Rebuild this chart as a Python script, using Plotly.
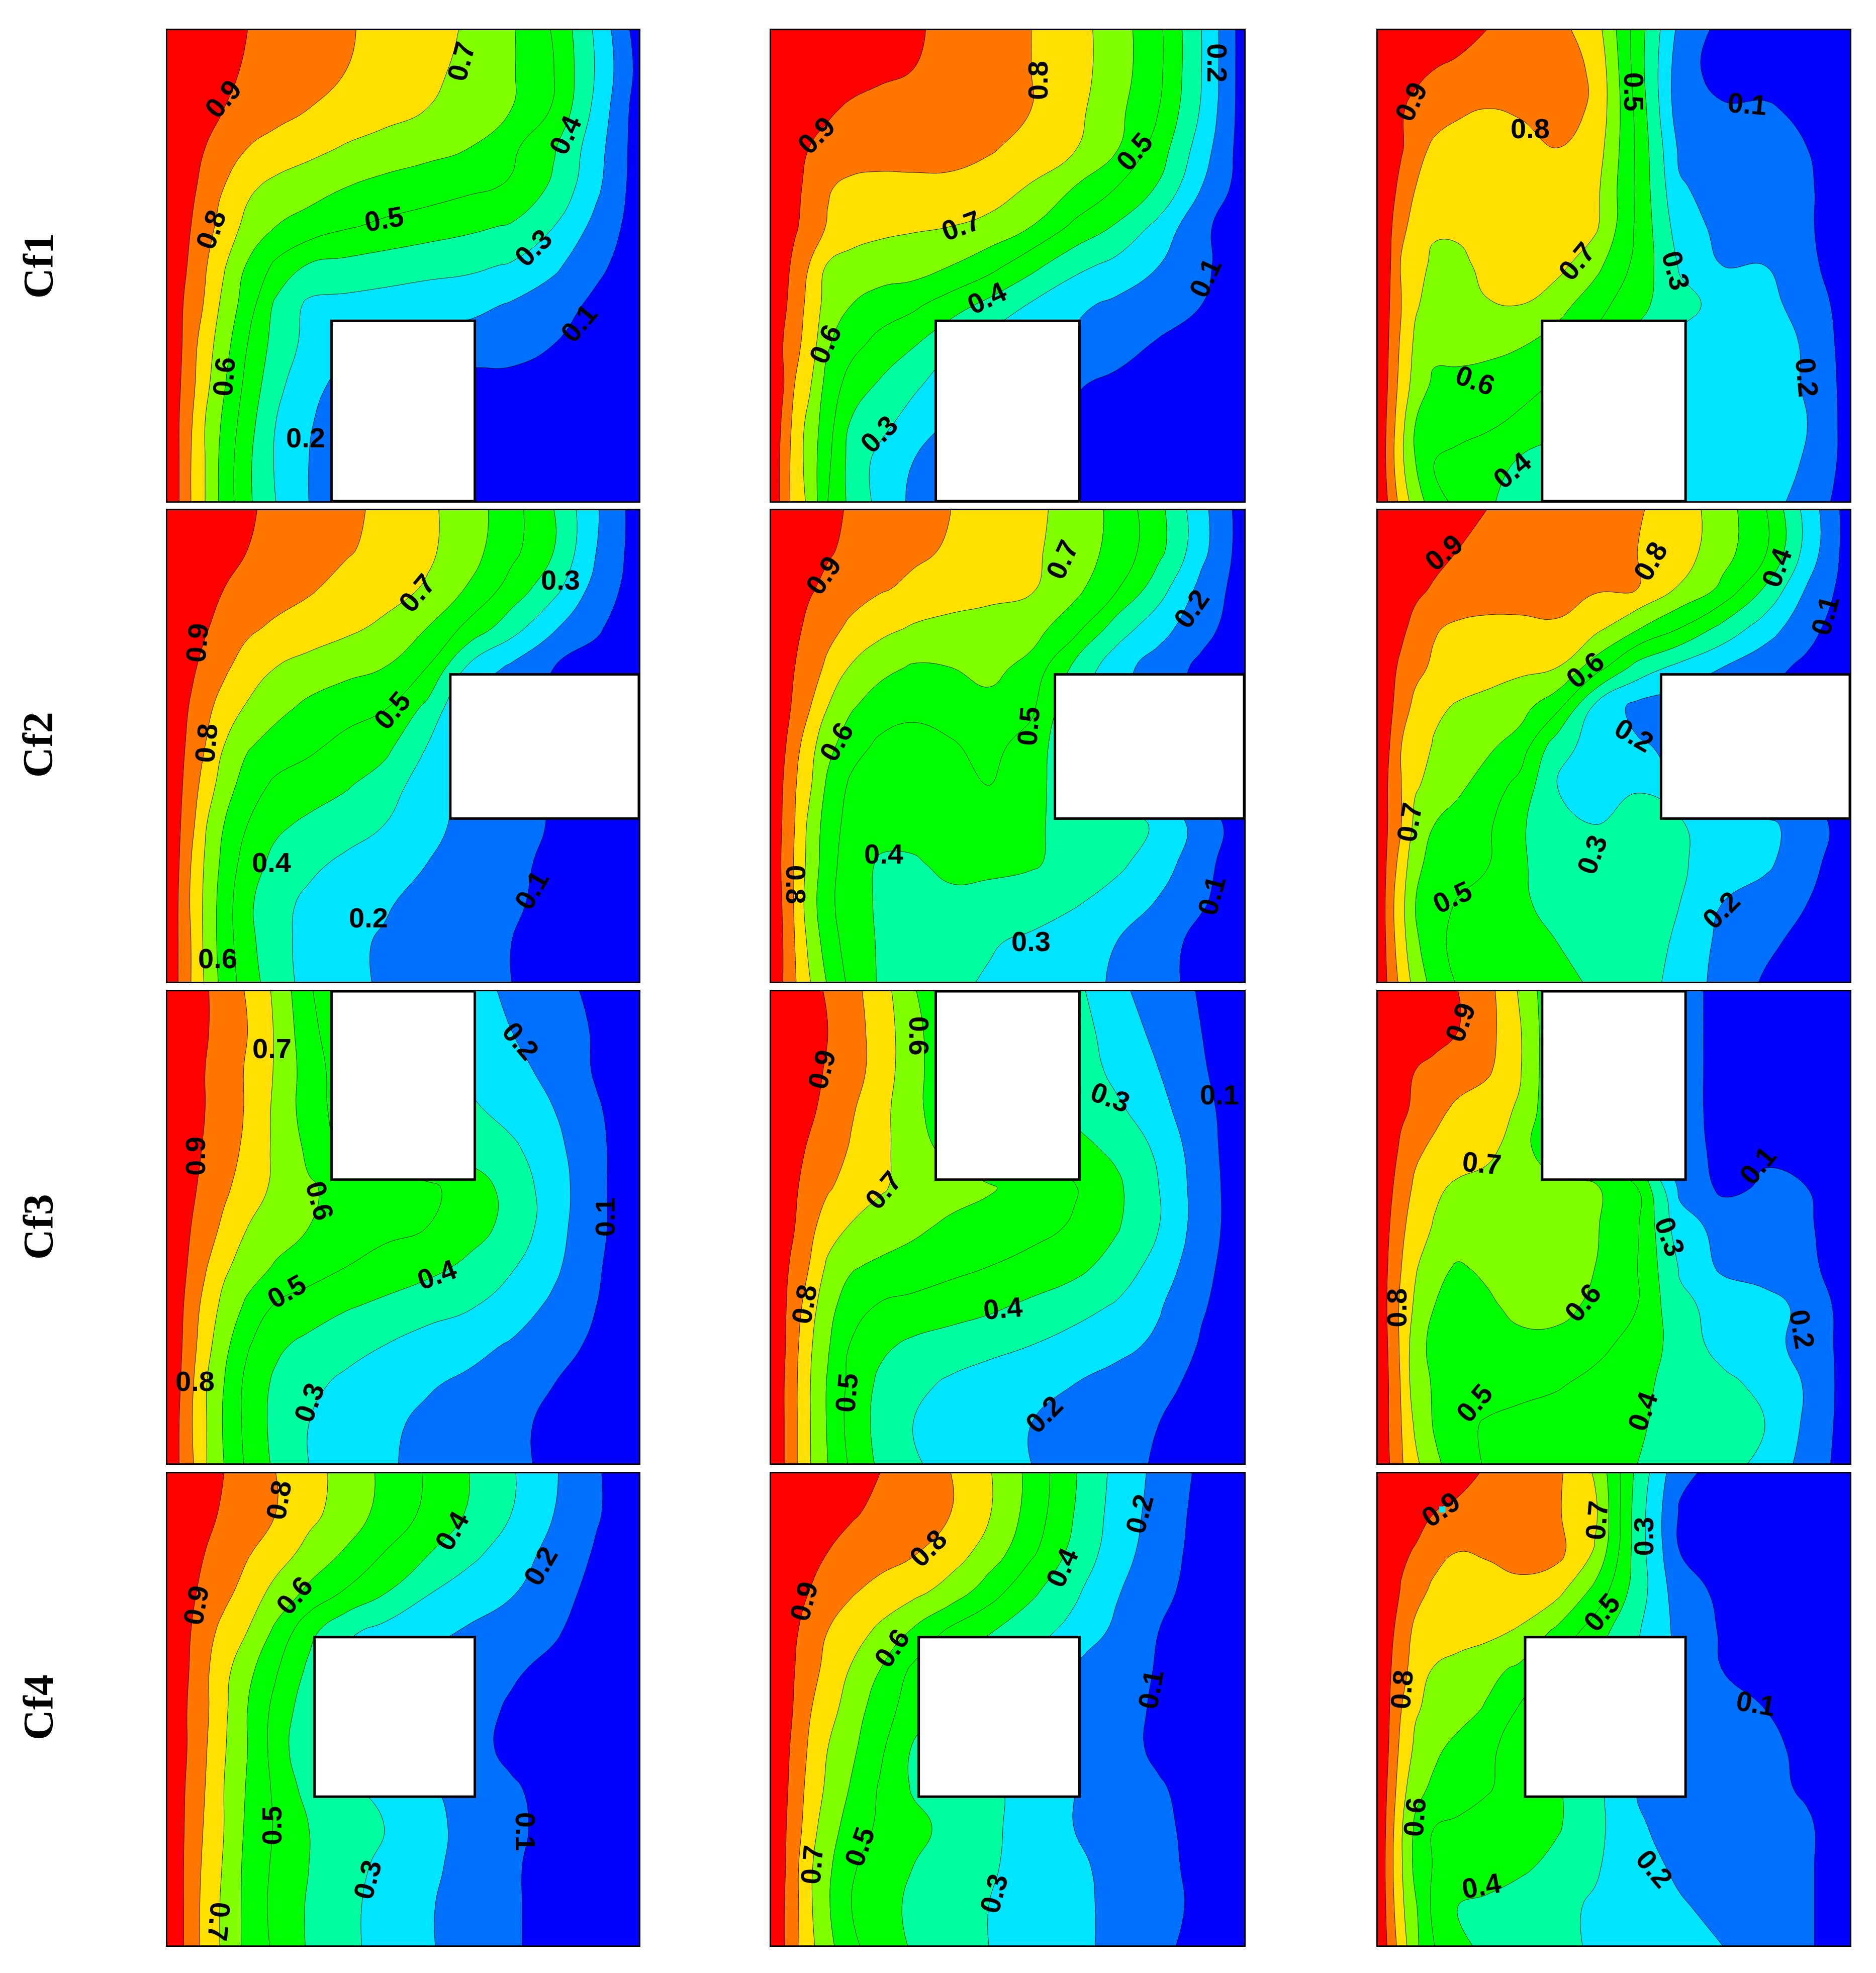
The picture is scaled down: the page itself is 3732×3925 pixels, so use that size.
import plotly.graph_objects as go

# Shared sample positions (fractions of each panel); y runs from the top edge downward
GRID_X = [0, .025, .05, .08, .12, .17, .23, .30, .38, .46, .55, .64, .73, .82, .91, 1]
GRID_Y = [i / 12 for i in range(13)]

ROW_NAMES = ["Cf1", "Cf2", "Cf3", "Cf4"]
LEVELS = dict(start=10, end=90, size=10)

# Values x100
Z_R1C1 = [
[100,99,97,95,93,90,87,84,81,77,73,69,61,49,28,5],
[100,98,96,94,92,89,86,84,80,77,72,68,61,50,29,7],
[100,97,95,93,90,87,83,80,77,74,70,65,60,49,27,5],
[100,96,93,90,85,80,77,73,69,66,63,60,52,41,24,5],
[100,96,92,87,80,72,67,64,60,57,55,52,49,38,22,5],
[100,95,90,84,76,67,60,56,51,48,45,42,39,30,17,5],
[100,94,88,81,71,59,48,39,37,35,33,32,29,22,12,5],
[100,92,86,79,67,55,38,28,27,26,25,23,19,14,8,4],
[100,92,84,75,64,50,36,27,22,19,17,15,14,10,7,4],
[100,91,83,73,61,47,33,23,17,13,10,7,7,6,5,4],
[100,90,81,70,58,44,30,21,13,9,7,6,6,5,4,4],
[100,90,80,70,56,42,29,20,12,9,7,6,5,5,4,4],
[100,90,80,70,56,42,30,20,12,9,7,6,5,5,4,4],
]
Z_R1C2 = [
[100,98,96,95,94,93,92,91,88,84,80,74,65,52,30,5],
[100,98,96,95,94,93,92,90,87,84,80,74,65,52,30,5],
[100,97,95,93,91,89,87,86,84,82,80,73,63,50,29,5],
[100,96,93,90,88,87,86,85,83,81,77,71,61,45,25,5],
[100,95,92,88,81,77,76,77,78,76,69,60,50,39,20,5],
[100,94,91,87,79,74,72,71,70,67,60,48,39,27,12,4],
[100,93,88,80,69,67,66,65,60,54,43,33,27,20,12,4],
[100,92,86,77,66,60,55,52,45,37,29,22,18,15,10,4],
[100,90,83,76,61,53,47,41,31,26,22,18,14,9,6,3],
[100,91,80,72,56,46,39,32,25,20,16,11,8,6,5,3],
[100,88,77,67,54,39,33,26,19,14,10,8,6,5,4,3],
[100,86,76,66,52,36,27,20,13,9,7,6,5,4,4,3],
[100,86,76,68,50,37,27,18,10,8,7,6,5,4,4,3],
]
Z_R1C3 = [
[100,98,96,95,94,92,90,86,83,75,45,17,7,5,5,5],
[100,97,95,93,90,89,87,85,83,79,45,14,6,6,5,5],
[100,94,91,87,85,82,80,81,83,79,47,14,11,11,8,5],
[100,95,91,84,78,75,76,77,80,76,48,18,15,13,10,5],
[100,94,87,80,75,74,74,74,74,73,48,21,16,14,11,5],
[100,92,82,77,72,73,74,74,73,72,48,25,17,14,11,5],
[100,91,79,75,67,66,74,75,73,63,47,29,20,20,12,5],
[100,90,80,71,66,66,69,70,64,54,43,33,27,23,16,5],
[100,89,78,68,63,64,63,61,55,47,37,28,27,24,19,5],
[100,88,76,66,58,57,56,54,49,43,36,28,27,25,19,6],
[100,86,73,60,56,54,52,48,44,40,35,28,27,25,20,6],
[100,85,72,60,50,47,44,39,34,30,27,27,26,25,19,6],
[100,88,76,65,54,47,42,35,30,27,26,26,26,24,16,5],
]
Z_R2C1 = [
[100,98,97,95,94,91,88,85,82,78,72,65,54,40,21,5],
[100,98,96,94,93,90,88,85,81,77,72,64,53,40,20,5],
[100,97,95,93,90,88,85,81,77,74,69,59,46,33,16,5],
[100,97,94,91,86,82,78,76,72,68,60,47,34,21,11,5],
[100,96,92,87,82,75,70,66,63,60,50,28,18,10,7,5],
[100,94,89,83,76,69,63,58,54,51,38,19,14,9,7,5],
[100,93,87,80,70,61,56,52,47,43,30,17,13,9,7,5],
[100,92,85,76,65,55,48,45,41,35,25,16,13,9,7,5],
[100,91,83,71,60,50,42,38,34,30,23,17,14,9,7,5],
[100,90,80,69,57,45,37,32,28,24,20,16,12,8,6,5],
[100,89,79,68,55,42,33,28,25,21,17,14,11,8,6,5],
[100,89,80,68,55,43,33,27,22,19,16,13,10,8,6,5],
[100,89,80,69,56,45,34,27,22,19,16,13,10,8,6,5],
]
Z_R2C2 = [
[100,98,97,95,92,89,87,84,80,76,72,67,57,43,23,5],
[100,97,95,93,91,88,86,82,79,76,72,65,57,43,23,5],
[100,96,94,91,88,84,81,78,75,73,71,63,51,34,17,5],
[100,95,92,88,83,78,73,69,67,66,64,54,35,24,13,5],
[100,94,90,85,78,69,63,59,60,63,57,38,24,15,8,4],
[100,94,88,81,70,61,55,52,54,57,52,32,24,14,7,4],
[100,92,84,74,63,54,48,47,49,53,46,31,24,14,7,4],
[100,90,81,72,58,48,46,45,47,50,44,33,24,14,7,4],
[100,89,80,68,55,46,43,43,44,45,42,36,33,29,15,5],
[100,88,79,67,54,44,39,39,42,42,41,37,32,25,13,4],
[100,89,79,65,53,43,39,38,38,37,35,31,26,19,11,4],
[100,90,80,68,55,45,39,37,34,31,28,24,20,14,7,4],
[100,90,81,71,59,47,39,36,32,29,26,23,19,13,7,4],
]
Z_R2C3 = [
[100,99,98,96,95,92,90,88,86,83,81,75,65,51,26,5],
[100,99,97,95,93,90,89,87,85,83,80,75,64,52,26,5],
[100,97,95,92,89,88,86,84,83,81,80,69,58,39,19,5],
[100,96,92,87,81,78,77,78,79,73,61,50,37,25,13,4],
[100,93,88,83,78,76,74,72,70,55,36,27,20,13,8,4],
[100,92,85,77,72,69,67,64,53,28,17,14,12,9,7,4],
[100,90,80,75,69,66,62,56,34,26,21,18,14,9,7,4],
[100,88,80,71,67,62,56,47,30,27,29,20,14,9,7,4],
[100,88,80,67,60,56,52,42,31,30,34,31,26,22,16,4],
[100,86,76,62,57,55,51,42,33,32,33,31,26,22,13,4],
[100,84,73,60,55,49,45,41,38,36,33,30,20,15,10,4],
[100,85,74,62,52,48,46,43,40,37,33,29,17,12,7,4],
[100,87,77,66,56,49,47,45,42,39,34,27,16,9,6,4],
]
Z_R3C1 = [
[100,97,94,91,86,79,68,51,42,36,30,24,18,13,8,4],
[100,97,94,91,86,80,69,53,42,36,30,26,20,15,9,4],
[100,97,94,90,85,79,69,55,44,37,31,27,23,17,9,4],
[100,97,94,90,85,79,68,55,45,39,35,32,26,20,11,4],
[100,96,93,89,84,78,68,58,47,43,40,36,32,23,12,4],
[100,96,92,87,82,75,68,61,57,55,52,46,36,25,12,4],
[100,94,90,85,78,70,65,60,57,53,50,44,37,24,12,4],
[100,94,88,81,72,65,59,54,50,46,43,38,31,22,11,4],
[100,93,85,77,67,58,49,46,41,38,34,31,25,18,10,4],
[100,92,84,74,63,51,42,37,33,30,26,23,19,14,8,4],
[100,91,82,71,60,47,38,32,28,25,21,18,15,10,7,4],
[100,90,81,71,59,47,37,30,26,22,18,15,12,8,6,4],
[100,90,82,71,60,48,38,30,25,21,18,15,12,8,6,4],
]
Z_R3C2 = [
[100,98,96,93,89,83,75,61,50,44,38,33,22,16,9,4],
[100,98,96,93,90,84,76,63,52,46,40,34,26,17,10,4],
[100,98,96,93,89,84,76,63,53,47,42,37,27,20,11,4],
[100,97,95,92,87,81,74,62,55,49,44,38,32,23,13,4],
[100,96,93,89,85,79,73,64,57,52,47,43,38,28,14,4],
[100,95,91,87,81,76,71,67,64,61,56,51,42,30,15,4],
[100,95,90,83,75,69,66,62,58,56,53,49,41,30,15,4],
[100,93,87,80,68,61,58,56,53,50,47,43,36,26,13,4],
[100,92,85,75,63,55,49,47,44,42,38,34,29,21,11,4],
[100,92,83,72,61,49,42,38,36,33,30,26,23,18,9,4],
[100,91,82,71,59,47,38,33,28,25,23,20,16,12,8,4],
[100,91,82,71,59,46,37,30,26,23,20,17,13,10,7,4],
[100,91,82,71,60,48,38,31,27,23,20,16,13,9,7,4],
]
Z_R3C3 = [
[100,99,97,96,93,90,84,69,50,40,30,15,6,5,5,5],
[100,98,96,95,93,90,84,71,50,40,30,15,6,5,5,5],
[100,97,95,90,88,85,82,71,50,40,30,15,6,5,5,5],
[100,96,92,88,83,78,74,69,50,40,30,15,6,5,5,5],
[100,95,88,82,78,76,73,65,50,40,30,15,7,9,8,5],
[100,92,85,78,72,68,66,65,64,62,50,18,8,11,10,5],
[100,90,82,75,69,67,66,65,63,61,51,24,17,15,11,5],
[100,88,80,71,63,59,62,64,62,60,50,29,18,15,12,5],
[100,87,78,68,60,56,58,63,63,58,50,32,27,24,17,5],
[100,88,78,64,57,55,55,57,57,53,46,36,26,22,18,5],
[100,89,79,64,59,57,55,53,51,47,42,37,33,27,19,5],
[100,89,80,68,59,53,49,47,45,43,41,37,33,30,18,5],
[100,90,81,72,62,55,49,47,45,42,40,36,33,28,16,5],
]
Z_R4C1 = [
[100,98,96,93,90,85,80,74,66,58,49,40,31,21,11,3],
[100,98,95,92,89,85,80,73,65,57,48,39,30,20,11,3],
[100,97,95,90,86,81,75,67,59,50,41,33,25,17,9,3],
[100,96,92,87,83,76,67,58,49,41,31,25,21,14,7,3],
[100,95,90,84,77,70,58,43,32,27,23,19,15,11,6,3],
[100,95,89,82,73,63,51,38,26,21,17,14,11,8,6,3],
[100,94,88,82,72,60,47,34,25,21,17,13,9,7,5,3],
[100,94,88,81,71,60,46,31,25,21,17,13,8,6,5,3],
[100,93,87,80,70,59,48,36,31,28,21,17,11,7,5,3],
[100,93,86,79,70,58,49,40,35,30,23,17,12,7,5,3],
[100,93,85,78,69,57,48,40,33,28,22,17,11,7,5,3],
[100,93,85,77,68,57,47,39,32,27,21,16,11,7,5,3],
[100,93,85,77,68,57,48,39,32,27,21,16,11,7,5,3],
]
Z_R4C2 = [
[100,99,97,96,94,91,90,85,80,71,57,41,27,17,8,3],
[100,98,97,95,93,91,88,85,80,71,56,40,26,16,7,3],
[100,97,94,92,90,87,84,81,75,66,52,37,25,14,7,3],
[100,97,94,90,86,81,77,73,66,55,42,32,21,12,7,3],
[100,95,91,87,80,75,68,59,48,41,34,27,18,10,6,3],
[100,95,90,84,77,69,60,48,37,31,25,20,16,9,6,3],
[100,95,89,81,74,65,55,45,37,31,25,20,15,8,6,3],
[100,94,87,79,70,62,52,39,32,28,24,19,14,8,6,3],
[100,93,86,77,68,59,49,39,36,32,26,20,15,11,6,3],
[100,92,85,75,64,56,48,43,37,32,26,20,16,12,7,3],
[100,92,83,72,62,51,46,40,36,31,27,22,17,12,8,3],
[100,91,83,72,61,50,44,38,34,30,26,22,18,13,8,3],
[100,91,83,73,63,52,45,39,34,30,26,22,18,12,7,3],
]
Z_R4C3 = [
[100,99,98,97,95,93,89,86,82,69,37,12,7,6,5,5],
[100,98,96,94,90,88,86,84,81,72,35,9,6,5,5,5],
[100,96,92,89,83,80,81,84,83,69,35,10,7,6,5,5],
[100,96,89,83,78,76,76,77,73,57,35,14,8,6,5,5],
[100,93,85,78,76,75,73,69,58,45,31,17,9,7,5,5],
[100,91,83,76,69,66,63,58,47,38,29,18,10,8,6,5],
[100,90,80,71,67,64,59,49,40,34,27,17,11,10,6,5],
[100,89,77,68,62,57,52,46,39,33,26,18,15,12,8,5],
[100,87,74,63,58,55,51,46,41,33,20,16,14,12,9,5],
[100,85,71,58,50,48,46,44,41,33,21,17,15,13,11,5],
[100,84,71,57,49,47,45,42,37,31,24,18,16,13,11,5],
[100,85,72,61,47,40,38,35,32,29,25,21,17,14,11,5],
[100,87,75,62,50,42,38,35,32,29,26,23,20,15,11,5],
]

ZS = [[Z_R1C1, Z_R1C2, Z_R1C3], [Z_R2C1, Z_R2C2, Z_R2C3],
      [Z_R3C1, Z_R3C2, Z_R3C3], [Z_R4C1, Z_R4C2, Z_R4C3]]

# Contour label texts
TEXT_R1C1 = ["0.9","0.8","0.7","0.4","0.5","0.3","0.1","0.6","0.2"]
TEXT_R1C2 = ["0.9","0.8","0.7","0.2","0.5","0.4","0.6","0.1","0.3"]
TEXT_R1C3 = ["0.9","0.8","0.5","0.1","0.7","0.3","0.6","0.2","0.4"]
TEXT_R2C1 = ["0.9","0.8","0.7","0.3","0.5","0.4","0.2","0.1","0.6"]
TEXT_R2C2 = ["0.9","0.7","0.2","0.6","0.5","0.8","0.4","0.3","0.1"]
TEXT_R2C3 = ["0.9","0.8","0.4","0.1","0.6","0.2","0.7","0.3","0.5","0.2"]
TEXT_R3C1 = ["0.7","0.2","0.9","0.6","0.1","0.5","0.4","0.8","0.3"]
TEXT_R3C2 = ["0.6","0.9","0.3","0.1","0.7","0.8","0.4","0.5","0.2"]
TEXT_R3C3 = ["0.9","0.7","0.1","0.3","0.6","0.8","0.2","0.5","0.4"]
TEXT_R4C1 = ["0.8","0.4","0.2","0.6","0.9","0.5","0.3","0.1","0.7"]
TEXT_R4C2 = ["0.2","0.8","0.4","0.9","0.6","0.1","0.5","0.7","0.3"]
TEXT_R4C3 = ["0.9","0.7","0.3","0.5","0.8","0.1","0.6","0.2","0.4"]
TEXTS = [[TEXT_R1C1, TEXT_R1C2, TEXT_R1C3], [TEXT_R2C1, TEXT_R2C2, TEXT_R2C3],
         [TEXT_R3C1, TEXT_R3C2, TEXT_R3C3], [TEXT_R4C1, TEXT_R4C2, TEXT_R4C3]]

# Placement of those labels: (x, y from top, angle)
PLACE = [[
 [(.118,.146,-50),(.092,.423,-70),(.623,.066,-75),(.844,.223,-65),(.46,.401,-10),(.776,.462,-45),(.873,.622,-50),(.12,.736,-85),(.293,.865,0)],
 [(.096,.223,-45),(.563,.107,-90),(.402,.415,-20),(.943,.07,90),(.768,.258,-50),(.456,.568,-25),(.114,.666,-65),(.918,.526,-65),(.228,.858,-45)],
 [(.07,.152,-65),(.323,.209,0),(.542,.131,90),(.783,.156,5),(.421,.49,-50),(.631,.51,75),(.207,.743,20),(.909,.737,85),(.284,.934,-40)],
],[
 [(.063,.281,-85),(.082,.494,-85),(.529,.175,-50),(.834,.148,0),(.477,.424,-50),(.221,.747,0),(.426,.864,0),(.772,.805,-60),(.107,.95,0)],
 [(.11,.138,-55),(.615,.105,-65),(.888,.209,-55),(.138,.491,-60),(.544,.458,-85),(.052,.794,90),(.238,.729,0),(.549,.914,0),(.931,.817,-75)],
 [(.14,.089,-40),(.577,.108,-60),(.845,.121,-70),(.947,.223,-75),(.439,.338,-40),(.543,.477,30),(.067,.662,-80),(.454,.73,-70),(.158,.82,-25),(.727,.848,-45)],
],[
 [(.222,.121,0),(.749,.105,50),(.059,.349,-90),(.323,.444,75),(.928,.478,-90),(.253,.635,-30),(.571,.6,-20),(.059,.826,0),(.301,.871,-70)],
 [(.313,.094,90),(.107,.166,-75),(.717,.224,20),(.948,.219,0),(.237,.421,-50),(.07,.663,-80),(.49,.671,-5),(.159,.851,-85),(.577,.896,-45)],
 [(.174,.065,-70),(.22,.364,5),(.805,.369,-50),(.619,.52,70),(.434,.66,-50),(.04,.671,-90),(.899,.716,80),(.205,.872,-50),(.561,.89,-70)],
],[
 [(.236,.056,-80),(.603,.122,-60),(.791,.196,-60),(.269,.258,-50),(.061,.279,-80),(.221,.746,-90),(.424,.861,-75),(.759,.759,90),(.11,.95,95)],
 [(.779,.086,-75),(.332,.158,-45),(.615,.2,-65),(.069,.271,-75),(.255,.37,-55),(.802,.458,-80),(.187,.791,-70),(.086,.829,-85),(.471,.89,-75)],
 [(.133,.076,-35),(.464,.1,-85),(.563,.134,-90),(.474,.294,-50),(.05,.458,-85),(.801,.487,10),(.078,.728,-85),(.586,.838,50),(.219,.874,-10)],
]]

WIDTH, HEIGHT = 3732, 3925
COL_PX = [(333, 1271), (1534, 2475), (2741, 3680)]
ROW_PX = [(60, 997), (1015, 1953), (1972, 2911), (2931, 3870)]
ROW_LABEL_Y = [529, 1482, 2441, 3397]
# Obstacle per row: x0, x1, y0, y1 (fractions, y from top)
OBST = [(.348, .652, .617, 1), (.6, 1, .348, .654), (.348, .652, 0, .399), (.312, .652, .347, .685)]
BAND_COLORS = ["#0000ff", "#0070ff", "#00e5ff", "#00ffa0", "#00ff00",
               "#00ff00", "#7fff00", "#ffe000", "#ff7700", "#ff0000"]
SCALE = [[i / 9, c] for i, c in enumerate(BAND_COLORS)]

fig = go.Figure()
layout = dict(width=WIDTH, height=HEIGHT, margin=dict(l=0, r=0, t=0, b=0),
              paper_bgcolor="white", plot_bgcolor="white", showlegend=False, autosize=False)
shapes, annots = [], []

for r in range(4):
    for c in range(3):
        n = r * 3 + c + 1
        xk, yk = f"x{n}", f"y{n}"
        fig.add_trace(go.Contour(
            x=GRID_X, y=GRID_Y, z=ZS[r][c], xaxis=xk, yaxis=yk,
            contours=dict(coloring="fill", showlabels=False, **LEVELS),
            colorscale=SCALE, showscale=False, hoverinfo="skip",
            line=dict(color="rgba(0,0,0,0.85)", width=1, smoothing=1.3)))
        common = dict(showgrid=False, zeroline=False, showticklabels=False, ticks="",
                      showline=True, linecolor="black", linewidth=3, mirror=True)
        x0, x1 = COL_PX[c]
        y0, y1 = ROW_PX[r]
        layout["xaxis" if n == 1 else f"xaxis{n}"] = dict(
            domain=[x0 / WIDTH, x1 / WIDTH], range=[0, 1], anchor=yk, **common)
        layout["yaxis" if n == 1 else f"yaxis{n}"] = dict(
            domain=[1 - y1 / HEIGHT, 1 - y0 / HEIGHT], range=[1, 0], anchor=xk, **common)
        ob = OBST[r]
        shapes.append(dict(type="rect", xref=xk, yref=yk, x0=ob[0], x1=ob[1], y0=ob[2], y1=ob[3],
                           fillcolor="white", line=dict(color="black", width=5), layer="above"))
        for t, (px, py, ang) in zip(TEXTS[r][c], PLACE[r][c]):
            annots.append(dict(text=t, x=px, y=py, xref=xk, yref=yk, showarrow=False,
                               textangle=ang, xanchor="center", yanchor="middle",
                               font=dict(family="Liberation Sans", size=56, color="black", weight="bold")))
    annots.append(dict(text=ROW_NAMES[r], x=76 / WIDTH, y=1 - ROW_LABEL_Y[r] / HEIGHT,
                       xref="paper", yref="paper", showarrow=False, textangle=-90,
                       xanchor="center", yanchor="middle",
                       font=dict(family="Liberation Serif", size=84, color="black", weight="bold")))

# Small cyan speck under the 0.9 label of the last panel
shapes.append(dict(type="rect", xref="x12", yref="y12", x0=.130, x1=.143, y0=.070, y1=.083,
                   fillcolor="#00e5ff", line=dict(width=0), layer="above"))

layout["shapes"] = shapes
layout["annotations"] = annots
fig.update_layout(**layout)
fig.write_html("out.html", post_script="document.body.style.margin='0';document.body.style.overflow='hidden';",
               config=dict(displayModeBar=False))
